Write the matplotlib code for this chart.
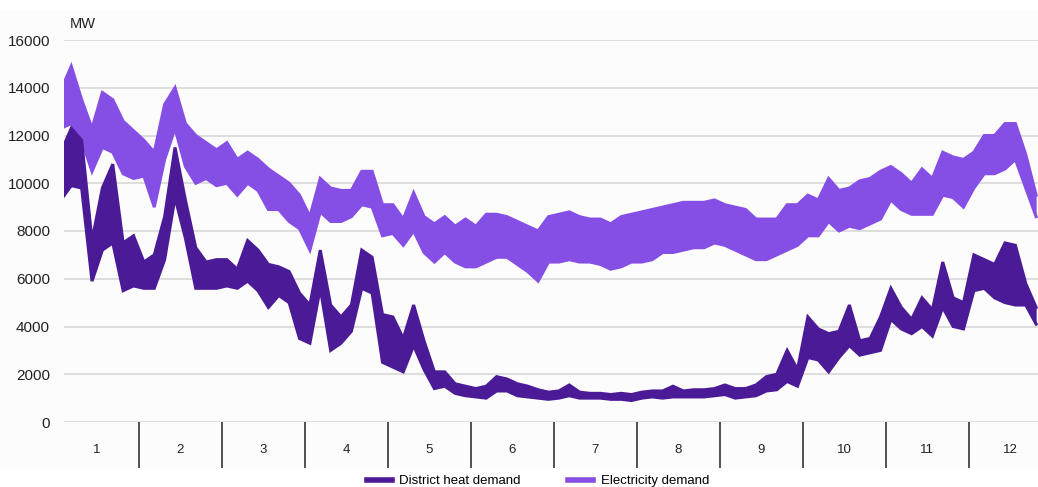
import numpy as np
import matplotlib
matplotlib.use("Agg")
import matplotlib.pyplot as plt
from matplotlib.lines import Line2D
from matplotlib.patches import Rectangle

# ---------------- data (MW), 8 readings per month: upper / lower envelope ----------------
months = ["1", "2", "3", "4", "5", "6", "7", "8", "9", "10", "11", "12"]
yticks = [0, 2000, 4000, 6000, 8000, 10000, 12000, 14000, 16000]

elec_hi = [13900, 14900, 13500, 12300, 13800, 13500, 12600, 12200,
           11800, 11300, 13300, 14000, 12500, 12000, 11700, 11400,
           11700, 11000, 11300, 11000, 10600, 10300, 10000, 9500,
           8600, 10200, 9800, 9700, 9700, 10500, 10500, 9100,
           9100, 8500, 9600, 8600, 8300, 8600, 8200, 8500,
           8200, 8700, 8700, 8600, 8400, 8200, 8000, 8600,
           8700, 8800, 8600, 8500, 8500, 8300, 8600, 8700,
           8800, 8900, 9000, 9100, 9200, 9200, 9200, 9300,
           9100, 9000, 8900, 8500, 8500, 8500, 9100, 9100,
           9500, 9300, 10200, 9700, 9800, 10100, 10200, 10500,
           10700, 10400, 10000, 10600, 10200, 11300, 11100, 11000,
           11300, 12000, 12000, 12500, 12500, 11200, 9500]
elec_lo = [12300, 12500, 11800, 10500, 11500, 11300, 10400, 10200,
           10300, 9000, 11000, 12300, 10700, 10000, 10200, 9900,
           10000, 9500, 10000, 9700, 8900, 8900, 8400, 8100,
           7200, 8800, 8400, 8400, 8600, 9100, 9000, 7800,
           7900, 7400, 8000, 7100, 6700, 7100, 6700, 6500,
           6500, 6700, 6900, 6900, 6600, 6300, 5900, 6700,
           6700, 6800, 6700, 6700, 6600, 6400, 6500, 6700,
           6700, 6800, 7100, 7100, 7200, 7300, 7300, 7500,
           7400, 7200, 7000, 6800, 6800, 7000, 7200, 7400,
           7800, 7800, 8400, 8000, 8200, 8100, 8300, 8500,
           9300, 8900, 8700, 8700, 8700, 9500, 9400, 9000,
           9800, 10400, 10400, 10600, 11000, 9800, 8600]
heat_hi = [11300, 12300, 11800, 7600, 9800, 10800, 7500, 7800,
           6700, 7000, 8600, 11500, 9300, 7300, 6700, 6800,
           6800, 6400, 7600, 7200, 6600, 6500, 6300, 5400,
           4900, 7200, 4900, 4400, 4900, 7200, 6900, 4500,
           4400, 3500, 4900, 3400, 2100, 2100, 1600, 1500,
           1400, 1500, 1900, 1800, 1600, 1500, 1350, 1250,
           1300, 1550, 1250, 1200, 1200, 1150, 1200, 1150,
           1250, 1300, 1300, 1500, 1300, 1350, 1350, 1400,
           1550, 1400, 1400, 1550, 1900, 2000, 3000, 2200,
           4400, 3900, 3700, 3800, 4900, 3400, 3500, 4400,
           5600, 4800, 4300, 5200, 4700, 6700, 5200, 5000,
           7000, 6800, 6600, 7500, 7400, 5800, 4800]
heat_lo = [9300, 9900, 9800, 5900, 7200, 7500, 5500, 5700,
           5600, 5600, 6800, 9400, 7700, 5600, 5600, 5600,
           5700, 5600, 5900, 5500, 4800, 5300, 5000, 3500,
           3300, 5600, 3000, 3300, 3800, 5600, 5400, 2500,
           2300, 2100, 3200, 2200, 1400, 1500, 1200, 1100,
           1050, 1000, 1300, 1300, 1100, 1050, 1000, 950,
           1000, 1100, 1000, 1000, 1000, 950, 950, 900,
           1000, 1050, 1000, 1050, 1050, 1050, 1050, 1100,
           1150, 1000, 1050, 1100, 1300, 1350, 1700, 1500,
           2700, 2600, 2100, 2700, 3200, 2800, 2900, 3000,
           4300, 3900, 3700, 4000, 3600, 4800, 4000, 3900,
           5500, 5600, 5200, 5000, 4900, 4900, 4100]

heat_label = "District heat demand"
elec_label = "Electricity demand"

# ---------------- styling ----------------
C_HEAT = "#4b1a96"
C_ELEC = "#854ee4"
GRID = "#d9d9d9"

plt.rcParams["font.family"] = ["Liberation Sans", "DejaVu Sans"]

W, H = 1038, 487
fig = plt.figure(figsize=(W / 100, H / 100), dpi=100)
fig.patch.set_facecolor("white")
fig.patches.append(Rectangle((0, (H - 468) / H), 1, (468 - 10) / H,
                             transform=fig.transFigure, facecolor="#fcfcfc",
                             edgecolor="none", zorder=-10))

ax = fig.add_axes([64 / W, (H - 422) / H, (1038 - 64) / W, 382 / H])
ax.set_facecolor("none")

per_month = 8
x = (np.arange(len(elec_hi)) + 0.5) / per_month

for hi, lo, c in [(elec_hi, elec_lo, C_ELEC), (heat_hi, heat_lo, C_HEAT)]:
    ax.fill_between(x, lo, hi, color=c, lw=0, zorder=3)
    ax.plot(x, hi, color=c, lw=2.2, zorder=3, solid_joinstyle="miter")
    ax.plot(x, lo, color=c, lw=2.2, zorder=3, solid_joinstyle="miter")

x0 = 0.1
x1 = (1038 - 55.7) / 83.0
ax.set_xlim(x0, x1)
ax.set_ylim(0, 16000)

for s in ax.spines.values():
    s.set_visible(False)

ax.set_yticks(yticks)
ax.set_yticklabels([str(v) for v in yticks], fontsize=11, color="#222222")
ax.tick_params(axis="y", length=0, pad=10)
ax.yaxis.grid(True, color=GRID, lw=1.2)
ax.set_axisbelow(True)

ax.set_xticks(np.arange(1, 12))
ax.set_xticklabels([])
ax.tick_params(axis="x", which="major", length=33, width=1.1, color="#222222",
               direction="out")
ax.set_xticks(np.arange(12) + 0.5, minor=True)
ax.set_xticklabels(months, minor=True, fontsize=9.5, color="#222222")
ax.tick_params(axis="x", which="minor", length=0, pad=16)

fig.text(70 / W, (H - 24) / H, "MW", fontsize=10.5, color="#222222",
         ha="left", va="center")

handles = [Line2D([], [], color=C_HEAT, lw=4),
           Line2D([], [], color=C_ELEC, lw=4)]
leg = fig.legend(handles, [heat_label, elec_label], loc="center",
                 bbox_to_anchor=(538 / W, (H - 481) / H), ncol=2, frameon=False,
                 prop={"size": 9.5},
                 handlelength=1.9, columnspacing=3.6, handletextpad=0.55,
                 borderaxespad=0, borderpad=0)

fig.savefig("out.png", dpi=100, facecolor="white")
